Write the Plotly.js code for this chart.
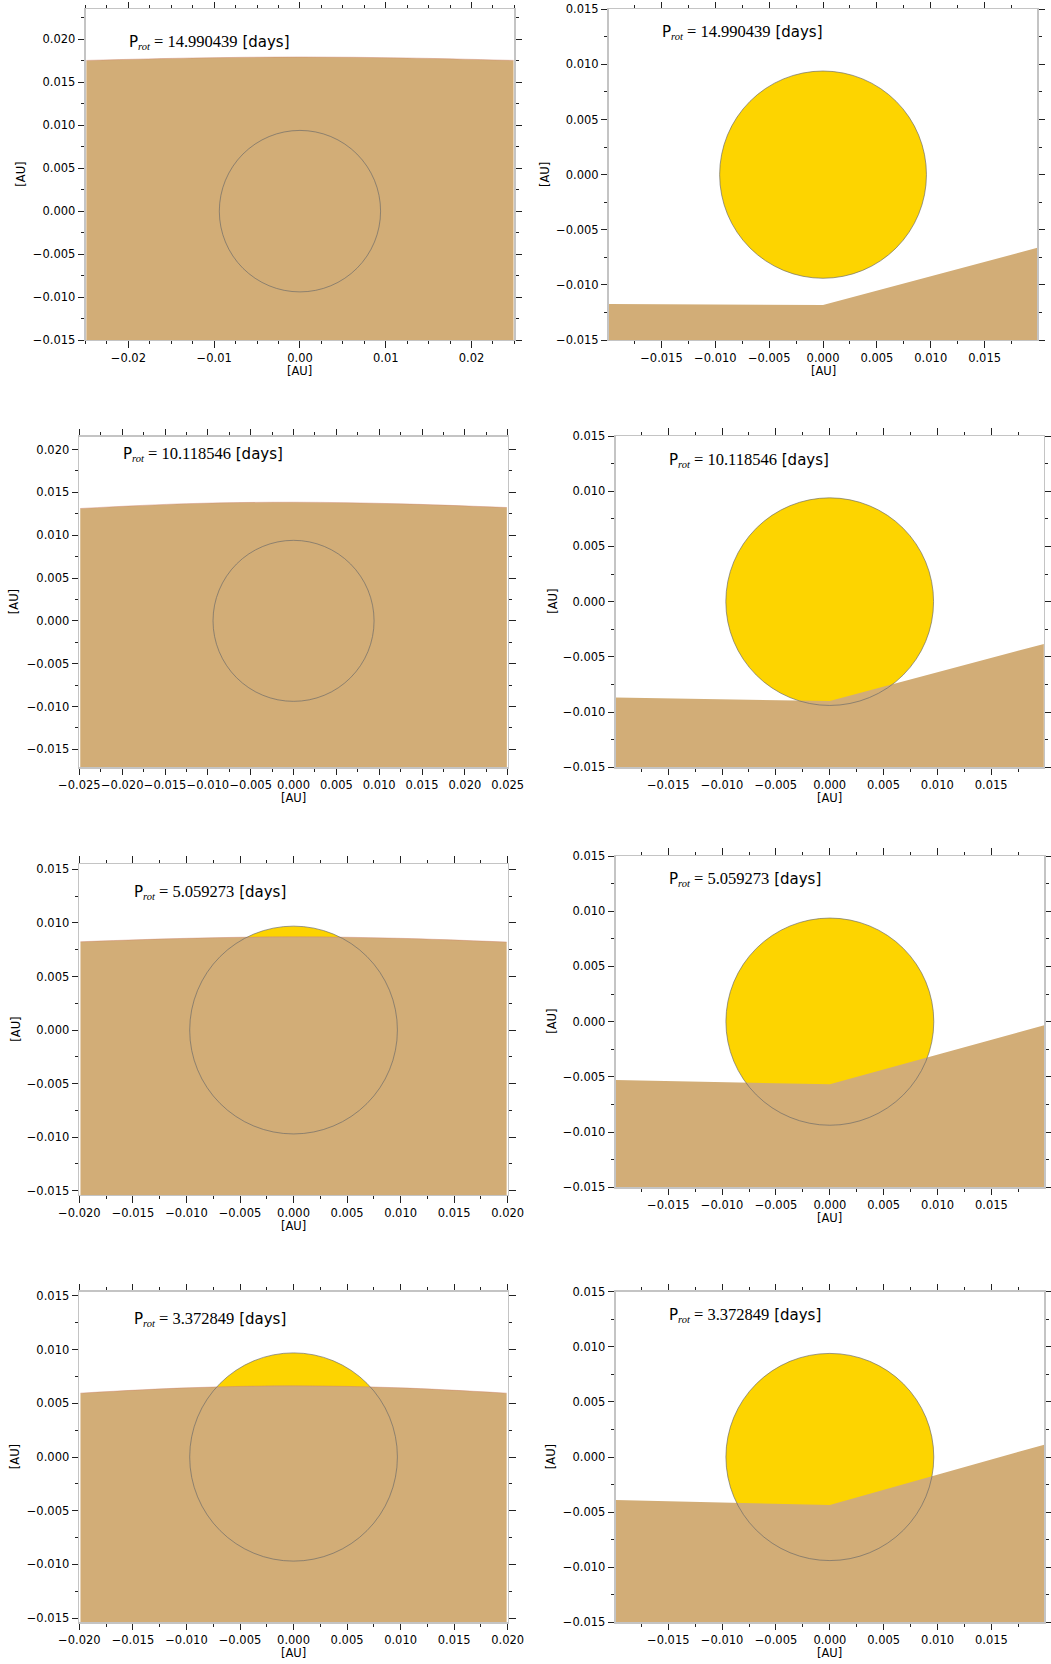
<!DOCTYPE html>
<html>
<head>
<meta charset="utf-8">
<script src="https://cdn.plot.ly/plotly-3.0.1.min.js"></script>
<style>
  html, body { margin: 0; padding: 0; background: #ffffff; }
  #chart { width: 1051px; height: 1664px; }
</style>
</head>
<body>
<div id="chart"></div>
<script>
// ---------------- DATA ----------------
const periods = ['14.990439', '10.118546', '5.059273', '3.372849'];

// Left column: top edge of the occulting (brown) region, sampled along x
const arcXWide   = [-0.0249, -0.0125, 0.0, 0.0125, 0.0249];
const arcXNarrow = [-0.0199, -0.0100, 0.0, 0.0100, 0.0199];
const arcY1 = [0.01755, 0.01783, 0.01795, 0.01783, 0.01755];
const arcY2 = [0.01312, 0.01368, 0.01385, 0.01366, 0.01323];
const arcY3 = [0.00824, 0.00856, 0.00870, 0.00856, 0.00821];
const arcY4 = [0.00595, 0.00644, 0.00663, 0.00644, 0.00595];

// Right column: top edge of the occulting region (kinked line)
const edgeX  = [-0.0199, 0.0, 0.0199];
const edgeY1 = [-0.01173, -0.01182, -0.00664];
const edgeY2 = [-0.00869, -0.00899, -0.00383];
const edgeY3 = [-0.00528, -0.00567, -0.00033];
const edgeY4 = [-0.00390, -0.00436, 0.00112];

// Star (circle centred on origin) radii per panel, in AU
const starRx = [0.0094, 0.0096, 0.0094, 0.00965, 0.0097, 0.00965, 0.0097, 0.00965];
const starRy = [0.0094, 0.0094, 0.0094, 0.0094, 0.0097, 0.00938, 0.0097, 0.0094];

// Axis limits
const xRanges = [[-0.025, 0.025], [-0.0199, 0.0199], [-0.025, 0.025], [-0.0199, 0.0199],
                 [-0.02, 0.02], [-0.0199, 0.0199], [-0.02, 0.02], [-0.0199, 0.0199]];
const yRanges = [[-0.015, 0.0235], [-0.015, 0.015], [-0.0171, 0.0215], [-0.015, 0.015],
                 [-0.0154, 0.0155], [-0.015, 0.015], [-0.0154, 0.0154], [-0.015, 0.015]];
const xMajor = [0.01, 0.005, 0.005, 0.005, 0.005, 0.005, 0.005, 0.005];

// Label positions (data coords, left-anchored, vertically centred)
const labelX = [-0.02, -0.015, -0.02, -0.015, -0.015, -0.015, -0.015, -0.015];
const labelY = [0.01965, 0.0129, 0.0195, 0.0128, 0.0129, 0.0129, 0.0129, 0.0129];

// ---------------- LAYOUT GEOMETRY (pixels) ----------------
const W = 1051, H = 1664;
const boxes = [
  [85.5, 9.3, 514.4, 340], [608.7, 9.3, 1037.4, 340],
  [79.4, 436.7, 507.7, 767.3], [615.5, 436, 1043.9, 767.3],
  [79.4, 864, 507.7, 1195], [615.5, 856, 1044.2, 1187.3],
  [79.4, 1291.7, 507.7, 1622.3], [615.5, 1291.7, 1044.2, 1622.3]
];
const yTitleX = [21, 544.4, 14.2, 552.2, 15.2, 551.2, 15.2, 551.2];

const BROWN = '#D2AD77';
const GOLD = '#FDD400';
const SPINE = '#c4c4c4';
const TICK = '#222222';
const FONT = 'DejaVu Sans, sans-serif';

const arcSets = [[arcXWide, arcY1], [arcXWide, arcY2], [arcXNarrow, arcY3], [arcXNarrow, arcY4]];
const edgeSets = [edgeY1, edgeY2, edgeY3, edgeY4];

const traces = [];
const shapes = [];
const annotations = [];
const layout = {
  width: W, height: H,
  margin: {l: 0, r: 0, t: 0, b: 0},
  paper_bgcolor: '#ffffff',
  plot_bgcolor: '#ffffff',
  showlegend: false,
  font: {family: FONT, size: 11.5, color: '#000'}
};

for (let i = 0; i < 8; i++) {
  const n = i + 1;
  const xa = n === 1 ? 'x' : 'x' + n;
  const ya = n === 1 ? 'y' : 'y' + n;
  const xKey = n === 1 ? 'xaxis' : 'xaxis' + n;
  const yKey = n === 1 ? 'yaxis' : 'yaxis' + n;
  const [l, t, r, b] = boxes[i];
  const row = Math.floor(i / 2);
  const isLeft = i % 2 === 0;

  const common = {
    showgrid: false, zeroline: false, showline: true,
    linecolor: SPINE, linewidth: 1.3, mirror: 'ticks',
    ticks: 'outside', ticklen: 6.5, tickwidth: 1, tickcolor: TICK,
    tickfont: {family: FONT, size: 11.5, color: '#000'},
    fixedrange: true
  };
  layout[xKey] = Object.assign({}, common, {
    domain: [l / W, r / W], anchor: ya, range: xRanges[i], tickangle: 0,
    tick0: 0, dtick: xMajor[i], tickformat: xMajor[i] === 0.01 ? '.2f' : '.3f',
    minor: {tick0: 0, dtick: 0.0025, ticks: 'outside', ticklen: 3, tickwidth: 1, tickcolor: TICK, showgrid: false}
  });
  layout[yKey] = Object.assign({}, common, {
    domain: [1 - b / H, 1 - t / H], anchor: xa, range: yRanges[i],
    tick0: 0, dtick: 0.005, tickformat: '.3f',
    minor: {tick0: 0, dtick: 0.0025, ticks: 'outside', ticklen: 3, tickwidth: 1, tickcolor: TICK, showgrid: false}
  });

  // Star body (below traces)
  shapes.push({
    type: 'circle', xref: xa, yref: ya, layer: 'below',
    x0: -starRx[i], x1: starRx[i], y0: -starRy[i], y1: starRy[i],
    fillcolor: GOLD, line: {width: 0}
  });
  // Star outline (above traces)
  shapes.push({
    type: 'circle', xref: xa, yref: ya, layer: 'above',
    x0: -starRx[i], x1: starRx[i], y0: -starRy[i], y1: starRy[i],
    fillcolor: 'rgba(0,0,0,0)', line: {width: 1, color: 'rgba(105,105,105,0.65)'}
  });

  // Occulting region: baseline + top edge filled down to it
  let ex, ey, shape;
  if (isLeft) { ex = arcSets[row][0]; ey = arcSets[row][1]; shape = 'spline'; }
  else { ex = edgeX; ey = edgeSets[row]; shape = 'linear'; }
  const bottom = yRanges[i][0] - 0.01;
  traces.push({
    x: [ex[0], ex[ex.length - 1]], y: [bottom, bottom],
    xaxis: xa, yaxis: ya, mode: 'lines', line: {width: 0, color: BROWN},
    hoverinfo: 'skip'
  });
  traces.push({
    x: ex, y: ey, xaxis: xa, yaxis: ya, mode: 'lines',
    line: {width: isLeft ? 0.8 : 0, color: isLeft ? 'rgba(205,130,110,0.55)' : BROWN, shape: shape, smoothing: 1},
    fill: 'tonexty', fillcolor: BROWN, hoverinfo: 'skip'
  });

  // Period label
  annotations.push({
    xref: xa, yref: ya, x: labelX[i], y: labelY[i],
    xanchor: 'left', yanchor: 'middle', showarrow: false, borderpad: 0,
    text: 'P<sub><span style="font-family:Liberation Serif;font-style:italic">rot</span></sub>' +
          '<span style="font-family:Liberation Serif;font-size:16.5px"> = ' + periods[row] + '</span> [days]',
    font: {family: FONT, size: 15, color: '#000'}
  });
  // Axis titles
  annotations.push({
    xref: 'paper', yref: 'paper', x: ((l + r) / 2) / W, y: 1 - (b + 31) / H,
    xanchor: 'center', yanchor: 'middle', showarrow: false,
    text: '[AU]', font: {family: FONT, size: 11.5, color: '#000'}
  });
  annotations.push({
    xref: 'paper', yref: 'paper', x: yTitleX[i] / W, y: 1 - ((t + b) / 2) / H,
    xanchor: 'center', yanchor: 'middle', showarrow: false, textangle: -90,
    text: '[AU]', font: {family: FONT, size: 11.5, color: '#000'}
  });
}
layout.shapes = shapes;
layout.annotations = annotations;

Plotly.newPlot('chart', traces, layout, {staticPlot: true, displayModeBar: false});
</script>
</body>
</html>
